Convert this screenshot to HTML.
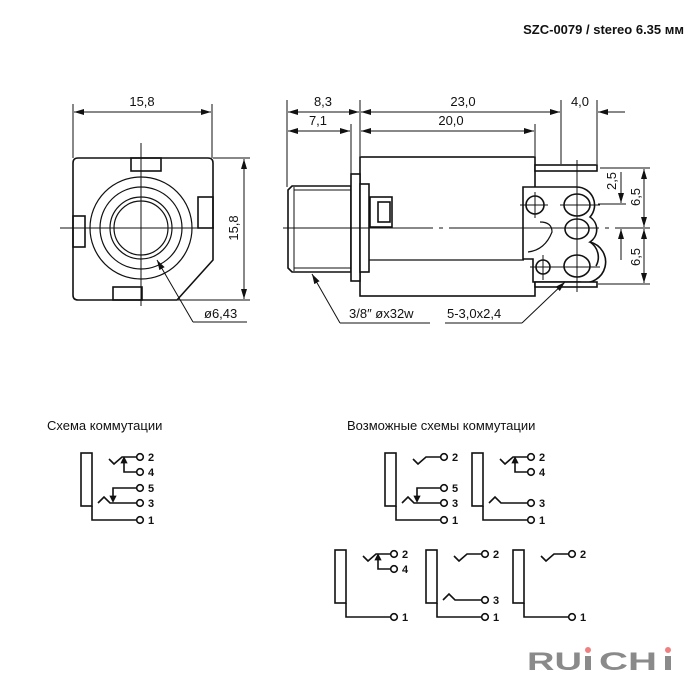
<!DOCTYPE html>
<html><head><meta charset="utf-8"><style>
html,body{margin:0;padding:0;background:#fff;}
svg{display:block;}
text{font-family:"Liberation Sans",sans-serif;fill:#111;}
</style></head><body>
<svg width="700" height="700" viewBox="0 0 700 700" xmlns="http://www.w3.org/2000/svg">
<defs>
<marker id="a" viewBox="0 0 10 6" refX="10" refY="3" markerWidth="10" markerHeight="6" orient="auto-start-reverse" markerUnits="userSpaceOnUse"><path d="M0,0L10,3L0,6z" fill="#111"/></marker>
</defs>
<text x="684" y="34" font-size="13" font-weight="bold" text-anchor="end">SZC-0079 / stereo 6.35 мм</text>

<!-- LEFT VIEW -->
<g stroke="#111" fill="none" stroke-width="1">
<line x1="73" y1="104" x2="73" y2="158"/>
<line x1="212" y1="104" x2="212" y2="158"/>
<line x1="74" y1="112" x2="211" y2="112" marker-start="url(#a)" marker-end="url(#a)"/>
<line x1="213" y1="158" x2="250" y2="158"/>
<line x1="178" y1="300" x2="250" y2="300"/>
<line x1="244" y1="159" x2="244" y2="299" marker-start="url(#a)" marker-end="url(#a)"/>
<g stroke-width="1.6">
<path d="M78,158 H208 Q213,158 213,163 V260 L177,300 H78 Q73,300 73,295 V163 Q73,158 78,158 Z"/>
<rect x="131" y="158" width="30" height="13"/>
<rect x="198" y="197" width="15" height="31"/>
<rect x="73" y="216" width="12" height="31"/>
<rect x="113" y="287" width="29" height="13"/>
</g>
<g stroke-width="1.2">
<circle cx="141" cy="228" r="51"/>
<circle cx="141" cy="228" r="41"/>
<circle cx="141" cy="228" r="31"/>
<circle cx="141" cy="228" r="27"/>
</g>
<line x1="141" y1="143" x2="141" y2="306"/>
<line x1="60" y1="228" x2="214" y2="228"/>
<polyline points="193,322 247,322" />
<line x1="193" y1="322" x2="157" y2="260" marker-end="url(#a)"/>
</g>
<text x="142" y="106" font-size="13" text-anchor="middle">15,8</text>
<text transform="translate(238,228) rotate(-90)" font-size="13" text-anchor="middle">15,8</text>
<text x="204" y="318" font-size="13">ø6,43</text>

<!-- RIGHT VIEW -->
<g stroke="#111" fill="none" stroke-width="1">
<line x1="287" y1="100" x2="287" y2="187"/>
<line x1="351" y1="124" x2="351" y2="175"/>
<line x1="360" y1="100" x2="360" y2="156"/>
<line x1="535" y1="124" x2="535" y2="156"/>
<line x1="561" y1="100" x2="561" y2="164"/>
<line x1="597" y1="100" x2="597" y2="164"/>
<line x1="288" y1="112" x2="359" y2="112" marker-start="url(#a)" marker-end="url(#a)"/>
<line x1="288" y1="131" x2="350" y2="131" marker-start="url(#a)" marker-end="url(#a)"/>
<line x1="361" y1="112" x2="560" y2="112" marker-start="url(#a)" marker-end="url(#a)"/>
<line x1="361" y1="131" x2="534" y2="131" marker-start="url(#a)" marker-end="url(#a)"/>
<line x1="625" y1="112" x2="598" y2="112" marker-end="url(#a)"/>
<line x1="600" y1="168" x2="650" y2="168"/>
<line x1="598" y1="204" x2="626" y2="204"/>
<line x1="598" y1="284" x2="650" y2="284"/>
<line x1="621" y1="172" x2="621" y2="203" marker-end="url(#a)"/>
<line x1="621" y1="260" x2="621" y2="229" marker-end="url(#a)"/>
<line x1="644" y1="169" x2="644" y2="227" marker-start="url(#a)" marker-end="url(#a)"/>
<line x1="644" y1="229" x2="644" y2="283" marker-start="url(#a)" marker-end="url(#a)"/>
<g stroke-width="1.6">
<rect x="360" y="157" width="175" height="139"/>
<path d="M292,186 H351 V272 H292 L288,268 V190 Z"/>
<line x1="294" y1="187" x2="294" y2="271" stroke-width="1"/>
<line x1="294" y1="190" x2="351" y2="190" stroke-width="1"/>
<line x1="294" y1="268" x2="351" y2="268" stroke-width="1"/>
<rect x="351" y="174" width="9" height="107" fill="#fff"/>
<rect x="360" y="184" width="9" height="88" fill="#fff"/>
<rect x="370" y="197" width="22" height="30"/>
<rect x="378" y="202" width="12" height="20"/>
<line x1="369" y1="260" x2="524" y2="260" stroke-width="1.2"/>
<path d="M523,259 V187 H577 A18,18 0 0 1 590,217 A15,15 0 0 1 590,242 A18,18 0 0 1 580,282 H533 V259 Z" fill="#fff"/>
<path d="M590,242 A18,18 0 0 1 596,266"/>
<path d="M528,252 Q545,250 552,232 Q552,222 540,222" stroke-width="1.2"/>
<rect x="535" y="165" width="62" height="6" fill="#fff"/>
<rect x="535" y="282" width="62" height="5" fill="#fff"/>
<circle cx="535" cy="205" r="9"/>
<circle cx="543" cy="267" r="7"/>
<ellipse cx="577" cy="205" rx="13" ry="11"/>
<ellipse cx="577" cy="229" rx="12" ry="10"/>
<ellipse cx="577" cy="266" rx="13" ry="11"/>
</g>
<line x1="577" y1="160" x2="577" y2="292"/>
<line x1="520" y1="205" x2="548" y2="205"/>
<line x1="535" y1="192" x2="535" y2="218"/>
<line x1="560" y1="205" x2="600" y2="205"/>
<line x1="530" y1="267" x2="600" y2="267"/>
<line x1="543" y1="255" x2="543" y2="280"/>
<line x1="283" y1="228" x2="650" y2="228" stroke-dasharray="150,6,4,6"/>
<polyline points="340,323 430,323"/>
<line x1="340" y1="323" x2="312" y2="274" marker-end="url(#a)"/>
<polyline points="445,323 522,323"/>
<line x1="522" y1="323" x2="565" y2="282" marker-end="url(#a)"/>
</g>
<text x="323" y="106" font-size="13" text-anchor="middle">8,3</text>
<text x="318" y="125" font-size="13" text-anchor="middle">7,1</text>
<text x="463" y="106" font-size="13" text-anchor="middle">23,0</text>
<text x="451" y="125" font-size="13" text-anchor="middle">20,0</text>
<text x="580" y="106" font-size="13" text-anchor="middle">4,0</text>
<text transform="translate(616,181) rotate(-90)" font-size="13" text-anchor="middle">2,5</text>
<text transform="translate(640,197) rotate(-90)" font-size="13" text-anchor="middle">6,5</text>
<text transform="translate(640,257) rotate(-90)" font-size="13" text-anchor="middle">6,5</text>
<text x="349" y="318" font-size="13">3/8″ øx32w</text>
<text x="447" y="318" font-size="13">5-3,0x2,4</text>

<!-- SCHEMATICS -->
<text x="47" y="430" font-size="13">Схема коммутации</text>
<text x="347" y="430" font-size="13">Возможные схемы коммутации</text>

<g stroke="#111" fill="none" stroke-width="1.6">
<g>
<rect x="81" y="453" width="11" height="53"/>
<polyline points="92,506 92,520 137,520"/><circle cx="140" cy="520" r="3.3"/>
<polyline points="109,459 114,464 122,457 137,457"/><circle cx="140" cy="457" r="3.3"/>
<polyline points="137,472 124,472 124,462"/><path d="M121,463 L124,457 L127,463Z" fill="#111" stroke-width="0.8"/><circle cx="140" cy="472" r="3.3"/>
<polyline points="137,488 113,488 113,497"/><path d="M110,496 L113,502 L116,496Z" fill="#111" stroke-width="0.8"/><circle cx="140" cy="488" r="3.3"/>
<polyline points="98,503 104,497 110,503 137,503"/><circle cx="140" cy="503" r="3.3"/>
</g>
<g transform="translate(304,0)">
<rect x="81" y="453" width="11" height="53"/>
<polyline points="92,506 92,520 137,520"/><circle cx="140" cy="520" r="3.3"/>
<polyline points="109,459 114,464 122,457 137,457"/><circle cx="140" cy="457" r="3.3"/>
<polyline points="137,488 113,488 113,497"/><path d="M110,496 L113,502 L116,496Z" fill="#111" stroke-width="0.8"/><circle cx="140" cy="488" r="3.3"/>
<polyline points="98,503 104,497 110,503 137,503"/><circle cx="140" cy="503" r="3.3"/>
</g>
<g transform="translate(391,0)">
<rect x="81" y="453" width="11" height="53"/>
<polyline points="92,506 92,520 137,520"/><circle cx="140" cy="520" r="3.3"/>
<polyline points="109,459 114,464 122,457 137,457"/><circle cx="140" cy="457" r="3.3"/>
<polyline points="137,472 124,472 124,462"/><path d="M121,463 L124,457 L127,463Z" fill="#111" stroke-width="0.8"/><circle cx="140" cy="472" r="3.3"/>
<polyline points="98,503 104,497 110,503 137,503"/><circle cx="140" cy="503" r="3.3"/>
</g>
<g transform="translate(254,97)">
<rect x="81" y="453" width="11" height="53"/>
<polyline points="92,506 92,520 137,520"/><circle cx="140" cy="520" r="3.3"/>
<polyline points="109,459 114,464 122,457 137,457"/><circle cx="140" cy="457" r="3.3"/>
<polyline points="137,472 124,472 124,462"/><path d="M121,463 L124,457 L127,463Z" fill="#111" stroke-width="0.8"/><circle cx="140" cy="472" r="3.3"/>
</g>
<g transform="translate(345,97)">
<rect x="81" y="453" width="11" height="53"/>
<polyline points="92,506 92,520 137,520"/><circle cx="140" cy="520" r="3.3"/>
<polyline points="109,459 114,464 122,457 137,457"/><circle cx="140" cy="457" r="3.3"/>
<polyline points="98,503 104,497 110,503 137,503"/><circle cx="140" cy="503" r="3.3"/>
</g>
<g transform="translate(432,97)">
<rect x="81" y="453" width="11" height="53"/>
<polyline points="92,506 92,520 137,520"/><circle cx="140" cy="520" r="3.3"/>
<polyline points="109,459 114,464 122,457 137,457"/><circle cx="140" cy="457" r="3.3"/>
</g>
</g>
<g font-size="11" font-weight="bold">
<text x="148" y="461">2</text><text x="148" y="476">4</text><text x="148" y="492">5</text><text x="148" y="507">3</text><text x="148" y="524">1</text>
<text x="452" y="461">2</text><text x="452" y="492">5</text><text x="452" y="507">3</text><text x="452" y="524">1</text>
<text x="539" y="461">2</text><text x="539" y="476">4</text><text x="539" y="507">3</text><text x="539" y="524">1</text>
<text x="402" y="558">2</text><text x="402" y="573">4</text><text x="402" y="621">1</text>
<text x="493" y="558">2</text><text x="493" y="604">3</text><text x="493" y="621">1</text>
<text x="580" y="558">2</text><text x="580" y="621">1</text>
</g>

<!-- LOGO -->
<g font-size="25" font-weight="bold" style="fill:#8a8a8a">
<text x="527" y="670" style="fill:#8a8a8a" textLength="55" lengthAdjust="spacingAndGlyphs">RU</text>
<rect x="585" y="656" width="6" height="14" fill="#8a8a8a"/>
<text x="599" y="670" style="fill:#8a8a8a" textLength="58" lengthAdjust="spacingAndGlyphs">CH</text>
<rect x="665" y="656" width="6" height="14" fill="#8a8a8a"/>
</g>
<circle cx="588" cy="650" r="3" fill="#f08080"/>
<circle cx="668" cy="650" r="3" fill="#f08080"/>
</svg>
</body></html>
